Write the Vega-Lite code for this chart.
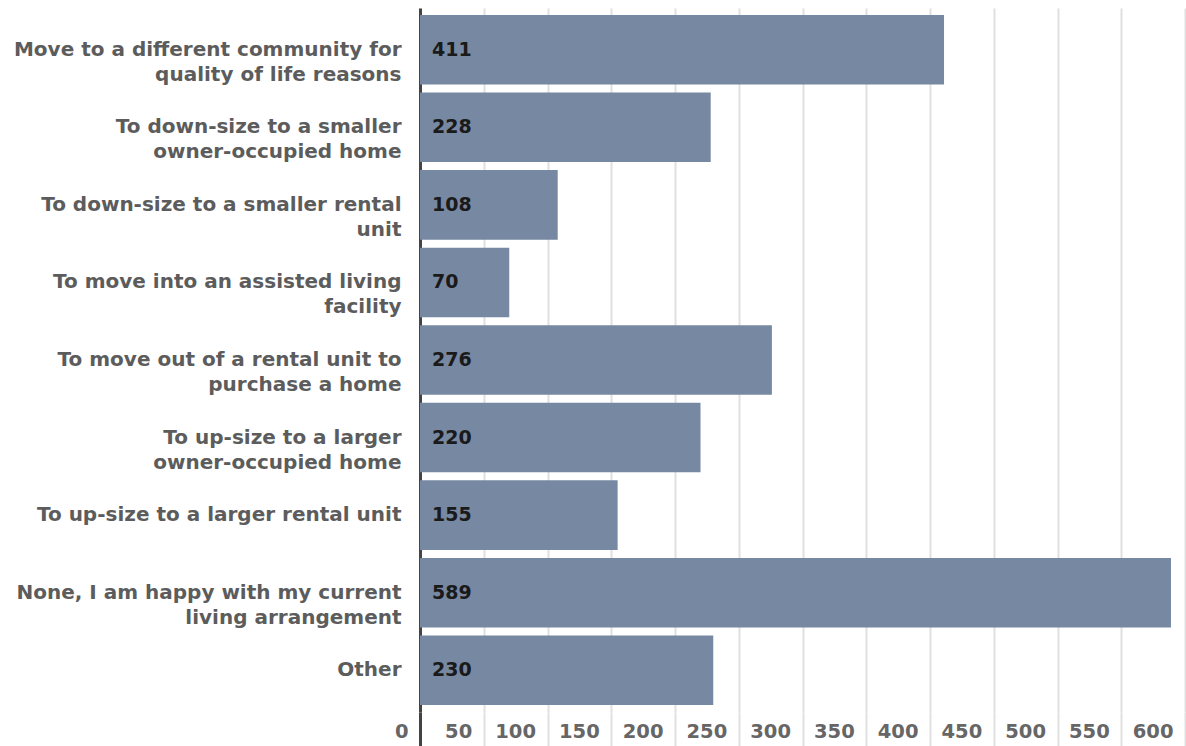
{
  "$schema": "https://vega.github.io/schema/vega-lite/v6.json",
  "autosize": "none",
  "width": 765,
  "height": 704,
  "padding": {"left": 420, "top": 8, "right": 1, "bottom": 34},
  "background": "white",
  "config": {
    "view": {"stroke": null},
    "font": "DejaVu Sans"
  },
  "data": {
    "values": [
      {"reason": "Move to a different community for|quality of life reasons", "count": 411},
      {"reason": "To down-size to a smaller|owner-occupied home", "count": 228},
      {"reason": "To down-size to a smaller rental|unit", "count": 108},
      {"reason": "To move into an assisted living|facility", "count": 70},
      {"reason": "To move out of a rental unit to|purchase a home", "count": 276},
      {"reason": "To up-size to a larger|owner-occupied home", "count": 220},
      {"reason": "To up-size to a larger rental unit", "count": 155},
      {"reason": "None, I am happy with my current|living arrangement", "count": 589},
      {"reason": "Other", "count": 230}
    ]
  },
  "encoding": {
    "y": {
      "field": "reason",
      "type": "nominal",
      "sort": null,
      "title": null,
      "scale": {"paddingInner": 0.103, "paddingOuter": 0.09},
      "axis": {
        "domain": true,
        "domainColor": "#444444",
        "domainWidth": 3,
        "ticks": false,
        "grid": false,
        "labelExpr": "split(datum.label, '|')",
        "labelAlign": "right",
        "labelBaseline": "middle",
        "labelPadding": 19,
        "labelFontSize": 20,
        "labelFontWeight": "bold",
        "labelColor": "#5c5c5c",
        "labelLineHeight": 25,
        "labelLimit": 420
      }
    }
  },
  "layer": [
    {
      "mark": {"type": "bar", "color": "#7788a2"},
      "encoding": {
        "x": {
          "field": "count",
          "type": "quantitative",
          "title": null,
          "scale": {"domain": [0, 600], "nice": false},
          "axis": {
            "orient": "bottom",
            "values": [0, 50, 100, 150, 200, 250, 300, 350, 400, 450, 500, 550, 600],
            "domain": false,
            "grid": true,
            "gridColor": "#e0e0e0",
            "gridWidth": 2,
            "ticks": true,
            "tickSize": 34,
            "tickColor": {"condition": {"test": "datum.value === 0", "value": "#444444"}, "value": "#e0e0e0"},
            "tickWidth": {"condition": {"test": "datum.value === 0", "value": 3}, "value": 2},
            "labelAlign": "right",
            "labelBaseline": "middle",
            "labelOffset": -12,
            "labelPadding": -15,
            "labelFlush": false,
            "labelOverlap": false,
            "labelFontSize": 19.5,
            "labelFontWeight": "bold",
            "labelColor": "#666666"
          }
        }
      }
    },
    {
      "mark": {"type": "text", "align": "left", "baseline": "middle", "dx": 12, "fontSize": 19, "fontWeight": "bold", "color": "#1a1a1a"},
      "encoding": {
        "x": {"datum": 0, "type": "quantitative"},
        "text": {"field": "count", "type": "quantitative"}
      }
    }
  ]
}
